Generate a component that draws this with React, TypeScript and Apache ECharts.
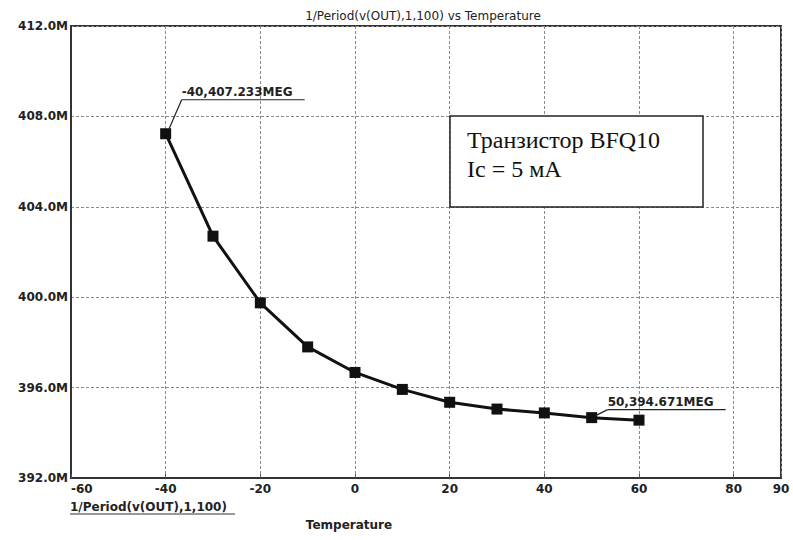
import React, { useEffect, useRef } from "react";
import * as echarts from "echarts";

const temperatures = [-40, -30, -20, -10, 0, 10, 20, 30, 40, 50, 60];
const frequencyM = [407.233, 402.7, 399.75, 397.8, 396.67, 395.92, 395.35, 395.05, 394.88, 394.671, 394.56];
const titleText = "1/Period(v(OUT),1,100) vs Temperature";
const traceName = "1/Period(v(OUT),1,100)";
const xAxisName = "Temperature";
const noteLines = ["Транзистор BFQ10", "Ic = 5 мА"];
const cursorIdx = [0, 9];

const FONT = "'DejaVu Sans', 'Liberation Sans', Arial, sans-serif";
const SERIF = "'Liberation Serif', 'DejaVu Serif', serif";

export default function App() {
  const ref = useRef<HTMLDivElement>(null);
  useEffect(() => {
    if (!ref.current) return;
    const chart = echarts.init(ref.current, null, { renderer: "svg" });
    const data = temperatures.map((t, i) => [t, frequencyM[i]]);
    chart.setOption({
      animation: false,
      backgroundColor: "#fff",
      grid: {
        left: 71,
        right: 12,
        top: 26,
        bottom: 62,
        show: true,
        borderColor: "#333",
        borderWidth: 2,
      },
      xAxis: {
        type: "value",
        min: -60,
        max: 90,
        interval: 20,
        axisLine: { show: true, onZero: false, lineStyle: { color: "#333", width: 2 } },
        axisTick: { show: true, inside: true, length: 4, lineStyle: { color: "#555" } },
        axisLabel: {
          color: "#222",
          fontFamily: FONT,
          fontWeight: "bold",
          fontSize: 12,
          margin: 5,
          alignMinLabel: "left",
        },
        splitLine: { show: true, lineStyle: { color: "#8a8a8a", type: [3, 2], width: 1 } },
      },
      yAxis: {
        type: "value",
        min: 392,
        max: 412,
        interval: 4,
        axisLine: { show: true, onZero: false, lineStyle: { color: "#333", width: 2 } },
        axisTick: { show: false },
        axisLabel: {
          color: "#222",
          fontFamily: FONT,
          fontWeight: "bold",
          fontSize: 12,
          margin: 3,
          formatter: (v: number) => v.toFixed(1) + "M",
        },
        splitLine: { show: true, lineStyle: { color: "#8a8a8a", type: [3, 2], width: 1 } },
      },
      series: [
        {
          type: "line",
          data,
          symbol: "rect",
          symbolSize: 11,
          itemStyle: { color: "#111" },
          lineStyle: { color: "#111", width: 3 },
          z: 5,
        },
      ],
    });

    const p0 = chart.convertToPixel({ seriesIndex: 0 }, data[cursorIdx[0]]) as number[];
    const p1 = chart.convertToPixel({ seriesIndex: 0 }, data[cursorIdx[1]]) as number[];
    const lbl0 = `${temperatures[cursorIdx[0]]},${frequencyM[cursorIdx[0]].toFixed(3)}MEG`;
    const lbl1 = `${temperatures[cursorIdx[1]]},${frequencyM[cursorIdx[1]].toFixed(3)}MEG`;

    const a0x = p0[0] + 16, a0y = p0[1] - 34;
    const a1x = p1[0] + 16, a1y = p1[1] - 8;

    const labelStyle = {
      fill: "#222",
      fontFamily: FONT,
      fontWeight: "bold",
      fontSize: 12,
    };

    chart.setOption({
      graphic: [
        {
          type: "text",
          x: 423,
          y: 16,
          style: { text: titleText, fill: "#222", fontFamily: FONT, fontSize: 12, align: "center", verticalAlign: "middle" },
        },
        {
          type: "text",
          x: 70,
          y: 507,
          style: { text: traceName, ...labelStyle, align: "left", verticalAlign: "middle" },
        },
        { type: "line", shape: { x1: 70, y1: 514, x2: 235, y2: 514 }, style: { stroke: "#333", lineWidth: 1 } },
        {
          type: "text",
          x: 349,
          y: 525,
          style: { text: xAxisName, ...labelStyle, align: "center", verticalAlign: "middle" },
        },
        // cursor label 1
        { type: "line", shape: { x1: a0x, y1: a0y, x2: a0x + 123, y2: a0y }, style: { stroke: "#222", lineWidth: 1.2 }, z: 10 },
        { type: "line", shape: { x1: a0x, y1: a0y, x2: p0[0] + 3, y2: p0[1] - 4 }, style: { stroke: "#222", lineWidth: 1.2 }, z: 10 },
        {
          type: "text",
          x: a0x,
          y: a0y - 2,
          style: { text: lbl0, ...labelStyle, align: "left", verticalAlign: "bottom" },
          z: 10,
        },
        // cursor label 2
        { type: "line", shape: { x1: a1x, y1: a1y, x2: a1x + 118, y2: a1y }, style: { stroke: "#222", lineWidth: 1.2 }, z: 10 },
        { type: "line", shape: { x1: a1x, y1: a1y, x2: p1[0] + 4, y2: p1[1] - 2 }, style: { stroke: "#222", lineWidth: 1.2 }, z: 10 },
        {
          type: "text",
          x: a1x,
          y: a1y - 2,
          style: { text: lbl1, ...labelStyle, align: "left", verticalAlign: "bottom" },
          z: 10,
        },
        // note box
        {
          type: "rect",
          shape: { x: 450, y: 116, width: 253, height: 91 },
          style: { fill: "#fff", stroke: "#222", lineWidth: 1.5 },
          z: 10,
        },
        {
          type: "text",
          x: 467,
          y: 140,
          style: { text: noteLines[0], fill: "#111", fontFamily: SERIF, fontSize: 24, verticalAlign: "middle" },
          z: 11,
        },
        {
          type: "text",
          x: 467,
          y: 169,
          style: { text: noteLines[1], fill: "#111", fontFamily: SERIF, fontSize: 24, verticalAlign: "middle" },
          z: 11,
        },
      ],
    });

    return () => chart.dispose();
  }, []);

  return (
    <div
      ref={ref}
      style={{ position: "absolute", left: 0, top: 0, width: 793, height: 540, background: "#fff" }}
    />
  );
}
